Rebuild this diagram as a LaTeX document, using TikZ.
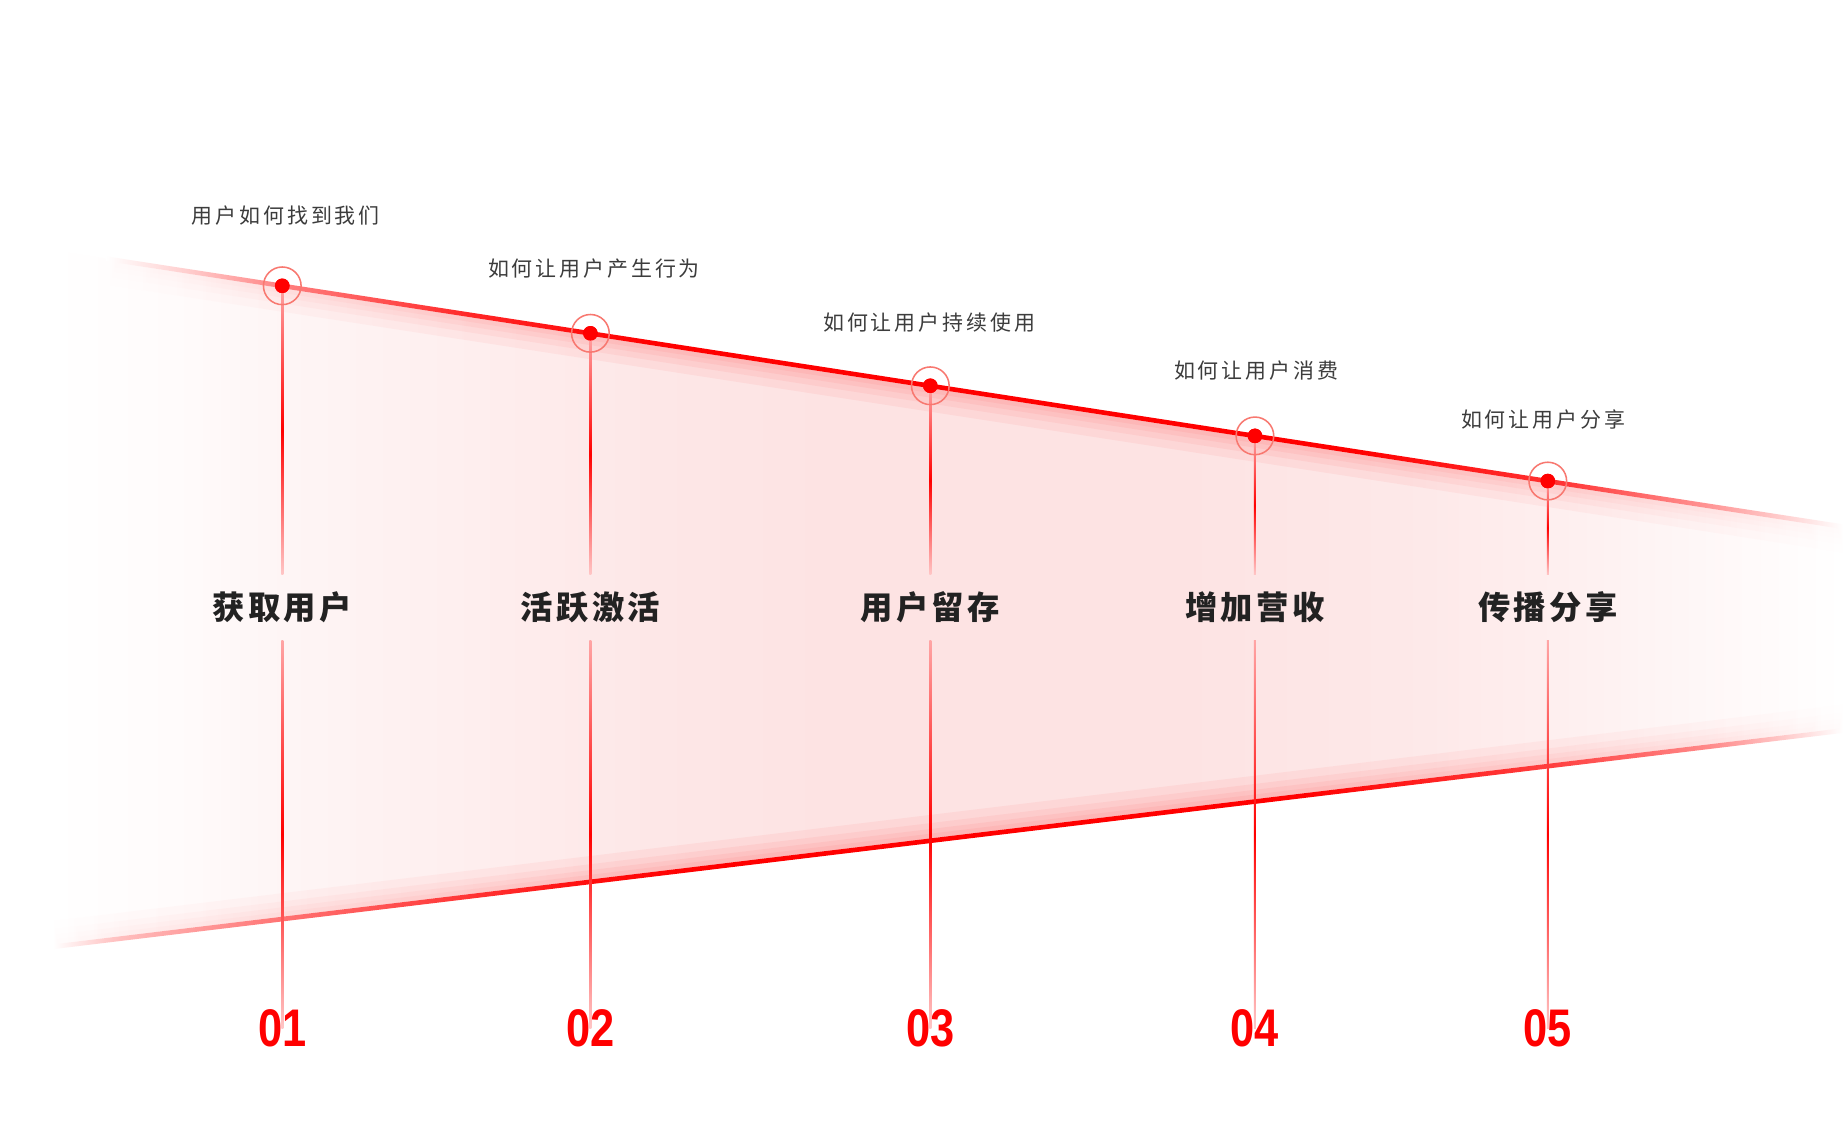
\documentclass[tikz,border=0pt]{standalone}
\usepackage{fontspec}
\usepackage{graphicx}
\newfontfamily\cjk[LetterSpace=14]{Noto Sans CJK SC}
\newfontfamily\cjktitle[LetterSpace=10]{Noto Sans CJK SC}
\newfontfamily\numfont{Liberation Sans}

\definecolor{funnelred}{HTML}{FF0000}
\definecolor{funnelpink}{HTML}{FDE3E3}
\definecolor{ringred}{HTML}{F87870}
\definecolor{subgray}{HTML}{3C3C3C}
\definecolor{titlegray}{HTML}{222222}

\pgfdeclarehorizontalshading{bandfill}{100bp}{color(0bp)=(white); color(25bp)=(white);
  color(28.5bp)=(funnelpink!15!white); color(31.4bp)=(funnelpink!35!white);
  color(36.7bp)=(funnelpink!60!white); color(41.6bp)=(funnelpink!85!white);
  color(46.6bp)=(funnelpink); color(56.5bp)=(funnelpink);
  color(63.1bp)=(funnelpink!80!white); color(67.4bp)=(funnelpink!55!white);
  color(71.4bp)=(funnelpink!25!white); color(75bp)=(white); color(100bp)=(white)}
\pgfdeclarehorizontalshading{toplinefade}{100bp}{color(0bp)=(white); color(25bp)=(white);
  color(27.4bp)=(funnelred!20!white); color(30.1bp)=(funnelred!50!white);
  color(35.5bp)=(funnelred!85!white); color(40.6bp)=(funnelred);
  color(61bp)=(funnelred); color(66.8bp)=(funnelred!80!white);
  color(71.3bp)=(funnelred!40!white); color(75bp)=(white); color(100bp)=(white)}
\pgfdeclarehorizontalshading{botlinefade}{100bp}{color(0bp)=(white); color(25bp)=(white);
  color(26.8bp)=(funnelred!25!white); color(31.4bp)=(funnelred!55!white);
  color(40bp)=(funnelred!95!white); color(43.3bp)=(funnelred);
  color(59.8bp)=(funnelred); color(66.9bp)=(funnelred!75!white);
  color(71.4bp)=(funnelred!45!white); color(75bp)=(white); color(100bp)=(white)}

\tikzset{
  subtitle/.style={font=\cjk\fontsize{17.8}{20}\selectfont, text=subgray, inner sep=0},
  title/.style={font=\cjktitle\bfseries\fontsize{27.5}{30}\selectfont, text=titlegray,
    inner sep=0, minimum height=55pt},
  number/.style={font=\numfont\bfseries\fontsize{45}{45}\selectfont, text=funnelred,
    inner sep=0, anchor=base},
  dot/.style={circle, fill=funnelred, inner sep=0, minimum size=12.4pt},
  ring/.style={draw=ringred, line width=1.3pt},
  vline/.style={top color=funnelred!35!white, bottom color=funnelred!22!white, middle color=funnelred},
  glow/.style={opacity=0.05},
}

\begin{document}
\begin{tikzpicture}[x=1pt, y=-1pt]
        \fill[white] (0,0) rectangle (1567,968.5);
        \useasboundingbox (0,0) rectangle (1567,968.5);

        % funnel band
        \coordinate (fl) at (45,212.9);
        \coordinate (tl) at (90,219.9);
        \coordinate (tr) at (1567,447.8);
        \coordinate (bl) at (45,805);
        \coordinate (br) at (1567,621.1);
        \shade[shading=bandfill] (fl) -- (tr) -- (br) -- (bl) -- cycle;

        % soft glow along the edges
        \shade[shading=toplinefade, glow] ([yshift=-2pt]tl) -- ([yshift=-2pt]tr) -- ([yshift=-22pt]tr) -- ([yshift=-22pt]tl) -- cycle;
        \shade[shading=toplinefade, glow] ([yshift=-2pt]tl) -- ([yshift=-2pt]tr) -- ([yshift=-15pt]tr) -- ([yshift=-15pt]tl) -- cycle;
        \shade[shading=toplinefade, glow] ([yshift=-2pt]tl) -- ([yshift=-2pt]tr) -- ([yshift=-10pt]tr) -- ([yshift=-10pt]tl) -- cycle;
        \shade[shading=toplinefade, glow] ([yshift=-2pt]tl) -- ([yshift=-2pt]tr) -- ([yshift=-6pt]tr) -- ([yshift=-6pt]tl) -- cycle;
        \shade[shading=botlinefade, glow] ([yshift=2pt]bl) -- ([yshift=2pt]br) -- ([yshift=22pt]br) -- ([yshift=22pt]bl) -- cycle;
        \shade[shading=botlinefade, glow] ([yshift=2pt]bl) -- ([yshift=2pt]br) -- ([yshift=15pt]br) -- ([yshift=15pt]bl) -- cycle;
        \shade[shading=botlinefade, glow] ([yshift=2pt]bl) -- ([yshift=2pt]br) -- ([yshift=10pt]br) -- ([yshift=10pt]bl) -- cycle;
        \shade[shading=botlinefade, glow] ([yshift=2pt]bl) -- ([yshift=2pt]br) -- ([yshift=6pt]br) -- ([yshift=6pt]bl) -- cycle;

        % edges
        \shade[shading=toplinefade] ([yshift=2pt]tl) -- ([yshift=2pt]tr) -- ([yshift=-2pt]tr) -- ([yshift=-2pt]tl) -- cycle;
        \shade[shading=botlinefade] ([yshift=2pt]bl) -- ([yshift=2pt]br) -- ([yshift=-2pt]br) -- ([yshift=-2pt]bl) -- cycle;

        % stages
        \node[dot] (d1) at (240,243) {};
        \node[dot] (d2) at (502,283.4) {};
        \node[dot] (d3) at (791,328) {};
        \node[dot] (d4) at (1067,370.6) {};
        \node[dot] (d5) at (1316,409) {};

        \node[title] (t1) at (240,516.5) {获取用户};
        \node[title] (t2) at (502,516.5) {活跃激活};
        \node[title] (t3) at (791,516.5) {用户留存};
        \node[title] (t4) at (1067,516.5) {增加营收};
        \node[title] (t5) at (1316,516.5) {传播分享};

        \node[number] (n1) at (240,890) {\scalebox{0.82}[1]{01}};
        \node[number] (n2) at (502,890) {\scalebox{0.82}[1]{02}};
        \node[number] (n3) at (791,890) {\scalebox{0.82}[1]{03}};
        \node[number] (n4) at (1067,890) {\scalebox{0.82}[1]{04}};
        \node[number] (n5) at (1316,890) {\scalebox{0.82}[1]{05}};

        \shade[vline] ([xshift=-0.85pt]d1.center) rectangle ([xshift=0.85pt]t1.north);
        \shade[vline] ([xshift=-0.85pt]d2.center) rectangle ([xshift=0.85pt]t2.north);
        \shade[vline] ([xshift=-0.85pt]d3.center) rectangle ([xshift=0.85pt]t3.north);
        \shade[vline] ([xshift=-0.85pt]d4.center) rectangle ([xshift=0.85pt]t4.north);
        \shade[vline] ([xshift=-0.85pt]d5.center) rectangle ([xshift=0.85pt]t5.north);

        \shade[vline] ([xshift=-0.85pt]t1.south) rectangle ([xshift=0.85pt]n1.center);
        \shade[vline] ([xshift=-0.85pt]t2.south) rectangle ([xshift=0.85pt]n2.center);
        \shade[vline] ([xshift=-0.85pt]t3.south) rectangle ([xshift=0.85pt]n3.center);
        \shade[vline] ([xshift=-0.85pt]t4.south) rectangle ([xshift=0.85pt]n4.center);
        \shade[vline] ([xshift=-0.85pt]t5.south) rectangle ([xshift=0.85pt]n5.center);

        \draw[ring] (d1) circle (16pt);
        \draw[ring] (d2) circle (16pt);
        \draw[ring] (d3) circle (16pt);
        \draw[ring] (d4) circle (16pt);
        \draw[ring] (d5) circle (16pt);
        \node[dot] at (d1) {};
        \node[dot] at (d2) {};
        \node[dot] at (d3) {};
        \node[dot] at (d4) {};
        \node[dot] at (d5) {};

        \node[subtitle] (s1) at (243,183) {用户如何找到我们};
        \node[subtitle] (s2) at (505,228) {如何让用户产生行为};
        \node[subtitle] (s3) at (790,274) {如何让用户持续使用};
        \node[subtitle] (s4) at (1068,315) {如何让用户消费};
        \node[subtitle] (s5) at (1312,357) {如何让用户分享};
\end{tikzpicture}
\end{document}
